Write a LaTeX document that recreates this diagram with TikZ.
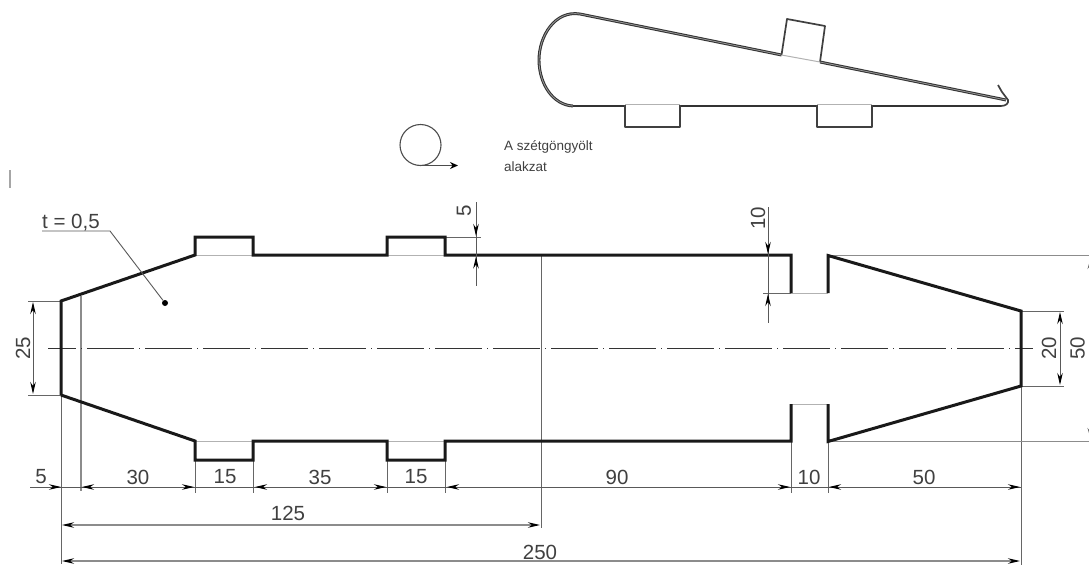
\documentclass[tikz,border=0pt]{standalone}
\usepackage{fontspec}
\setmainfont{Liberation Sans}
\usetikzlibrary{arrows.meta}
\definecolor{txt}{gray}{0.25}
\tikzset{
  x=1pt,y=-1pt,
  outline/.style={draw=black!90,line width=3pt,line join=miter},
  thin part/.style={draw=black!75,line width=1.7pt,line join=round},
  base part/.style={draw=black!80,line width=2.4pt},
  wrap/.style={draw=black!80,line width=1.05pt,double=white!60!black,double distance=.8pt,line join=round},
  hidden edge/.style={draw=black!30,line width=1pt},
  ext/.style={draw=black!60,line width=.8pt},
  dim/.style={draw=black!65,line width=.9pt},
  dimhead/.style={-{Stealth[length=12pt,width=5.5pt,black]}},
  dimboth/.style={{Stealth[length=12pt,width=5.5pt,black]}-{Stealth[length=12pt,width=5.5pt,black]}},
  axis/.style={draw=black!80,line width=.9pt,dash pattern=on 47pt off 5pt on .7pt off 5.3pt,dash phase=19pt},
  lab/.style={font=\fontsize{20.5}{20.5}\selectfont,text=txt,inner sep=0pt},
  small/.style={font=\fontsize{13.5}{14}\selectfont,text=black!75,inner sep=0pt,anchor=west},
}
\begin{document}
\begin{tikzpicture}
\useasboundingbox (0,0) rectangle (1089,565);
\clip (0,0) rectangle (1089,565);
\fill[white] (0,0) rectangle (1089,565);
% stray mark
\draw[draw=black!35,line width=1.2pt] (10,170) -- (10,188);

% ---- top sketch
\draw[wrap] (781.5,55) -- (580,14) .. controls (555,10) and (539,36) .. (539,60)
  .. controls (539,84) and (553,105) .. (573,106);
\draw[wrap] (820,62) -- (1006,100);
\draw[base part] (573,106) -- (625,106);
\draw[base part] (680,106) -- (817,106);
\draw[base part] (872,106) -- (1001,106);
\draw[thin part] (1001,106) .. controls (1006,106) and (1009,103) .. (1008,100)
  -- (1002,92) -- (998,85);
\draw[thin part] (781.5,55) -- (787,19) -- (825,26) -- (820,62);
\draw[thin part] (625,105) -- (625,127) -- (680,127) -- (680,105);
\draw[thin part] (817,105) -- (817,127) -- (872,127) -- (872,105);
\draw[hidden edge] (781.5,55) -- (820,62);
\draw[hidden edge] (625,104) -- (680,104);
\draw[hidden edge] (817,104) -- (872,104);

% ---- small roll symbol
\draw[draw=black!70,line width=1.1pt] (420.5,145) circle (20.5);
\coordinate (rollA) at (420.5,165.5);
\coordinate (rollB) at (458,165.5);
\draw[draw=black!70,line width=1.1pt,-{Stealth[length=8pt,width=7pt,black]}] (rollA) -- (rollB);
\node[small] (note1) at (504,147) {A szétgöngyölt};
\node[small] (note2) at (504,167) {alakzat};

% ---- extension lines
\draw[ext] (61,395) -- (61,564);
\draw[ext,draw=black!45,line width=1.2pt] (81,296) -- (81,491);
\draw[ext] (28,301) -- (61,301);
\draw[ext] (28,395) -- (61,395);
\draw[ext] (195,441) -- (195,493);
\draw[ext] (253,441) -- (253,493);
\draw[ext] (387,441) -- (387,493);
\draw[ext] (445,441) -- (445,493);
\draw[ext] (791,441) -- (791,493);
\draw[ext] (828,441) -- (828,493);
\draw[ext] (541,255) -- (541,528);
\draw[ext] (1021,386) -- (1021,565);
\draw[ext,draw=black!45,line width=1.2pt] (828,255.5) -- (1089,255.5);
\draw[ext,draw=black!45,line width=1.2pt] (828,441.5) -- (1089,441.5);
\draw[ext] (1021,311) -- (1064,311);
\draw[ext] (1021,386) -- (1064,386);
\draw[ext] (445,237) -- (481,237);
\draw[ext] (763,293) -- (791,293);

% ---- hidden fold lines
\draw[hidden edge] (195,255) -- (253,255);
\draw[hidden edge] (387,255) -- (445,255);
\draw[hidden edge] (195,441) -- (253,441);
\draw[hidden edge] (387,441) -- (445,441);
\draw[hidden edge] (791,293) -- (828,293);
\draw[hidden edge] (791,404) -- (828,404);

% ---- centre line
\draw[axis] (48,348) -- (1033,348);

% ---- outline
\draw[outline] (61,395) -- (61,301) -- (195,255) -- (195,237) -- (253,237) -- (253,255) -- (387,255)
  -- (387,237) -- (445,237) -- (445,255) -- (791,255) -- (791,293);
\draw[outline] (828,293) -- (828,255.5) -- (1021,311) -- (1021,386) -- (828,441.5) -- (828,404);
\draw[outline] (791,404) -- (791,441) -- (445,441) -- (445,460) -- (387,460) -- (387,441)
  -- (253,441) -- (253,460) -- (195,460) -- (195,441) -- (61,395);

% ---- leader
\node[lab,anchor=base west] (tval) at (42,228) {t = 0,5};
\coordinate (lead1) at (42,231);
\coordinate (lead2) at (110,231);
\node[circle,fill=black,inner sep=0pt,minimum size=6pt] (leaddot) at (165,303) {};
\draw[dim] (lead1) -- (lead2) -- (leaddot);

% ---- horizontal chain
\draw[dim] (30,487) -- (1021,487);
\draw[dimhead,dim] (46,487) -- (61,487);
\draw[dimhead,dim] (98,487) -- (82,487);
\draw[dimhead,dim] (178,487) -- (194,487);
\draw[dimhead,dim] (272,487) -- (255,487);
\draw[dimhead,dim] (370,487) -- (386,487);
\draw[dimhead,dim] (462,487) -- (447,487);
\draw[dimhead,dim] (774,487) -- (790,487);
\draw[dimhead,dim] (845,487) -- (829,487);
\draw[dimhead,dim] (1004,487) -- (1020,487);

% ---- long dimensions
\draw[dim,line width=1.3pt,draw=black!45,dimboth] (62,525) -- (540,525);
\draw[dim,line width=1.3pt,draw=black!45,dimboth] (62,561) -- (1020,561);

% ---- vertical dimensions
\draw[dim,dimboth] (33,302) -- (33,394);
\draw[dim,dimboth] (1060,312) -- (1060,385);
\draw[dim,{Stealth[length=12pt,width=7pt,black!60]}-{Stealth[length=12pt,width=7pt,black!60]}] (1091,257) -- (1091,440);
\draw[dim] (476,202) -- (476,286);
\draw[dimhead,dim] (476,221) -- (476,236);
\draw[dimhead,dim] (476,273) -- (476,256.5);
\draw[dim] (768,207) -- (768,323);
\draw[dimhead,dim] (768,240) -- (768,254);
\draw[dimhead,dim] (768,308) -- (768,294);

% ---- labels
\node[lab] (d5) at (41,477) {5};
\node[lab] (d30) at (138,477) {30};
\node[lab] (d15a) at (225,477) {15};
\node[lab] (d35) at (320,477) {35};
\node[lab] (d15b) at (416,477) {15};
\node[lab] (d90) at (617,477) {90};
\node[lab] (d10a) at (809,477) {10};
\node[lab] (d50a) at (924,477) {50};
\node[lab] (d125) at (288,513) {125};
\node[lab] (d250) at (540,552) {250};
\node[lab,rotate=90] (d25) at (23,348) {25};
\node[lab,rotate=90] (d20) at (1049,348) {20};
\node[lab,rotate=90] (d50b) at (1077.5,348) {50};
\node[lab,rotate=90] (d5v) at (464,211) {5};
\node[lab,rotate=90] (d10v) at (758,218) {10};
\end{tikzpicture}
\end{document}
